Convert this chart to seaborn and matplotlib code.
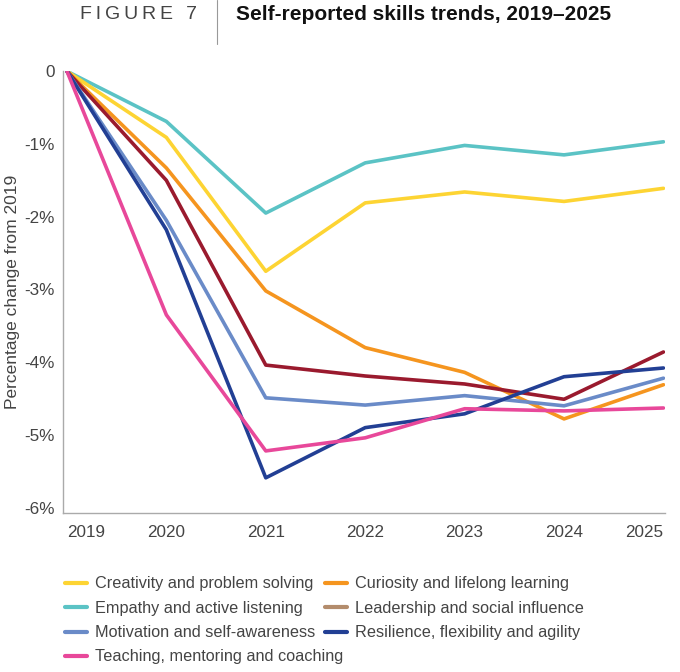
import pandas as pd
import matplotlib.pyplot as plt
import seaborn as sns
from matplotlib.lines import Line2D

# Values (percentage change from 2019)
years = [2019, 2020, 2021, 2022, 2023, 2024, 2025]
creativity = [0, -0.91, -2.75, -1.81, -1.66, -1.79, -1.61]
empathy = [0, -0.69, -1.95, -1.26, -1.02, -1.15, -0.97]
curiosity = [0, -1.33, -3.02, -3.80, -4.14, -4.78, -4.31]
leadership = [0, -1.50, -4.04, -4.19, -4.30, -4.51, -3.86]
motivation = [0, -2.05, -4.49, -4.59, -4.46, -4.60, -4.22]
resilience = [0, -2.18, -5.59, -4.90, -4.71, -4.20, -4.08]
teaching = [0, -3.35, -5.22, -5.04, -4.64, -4.67, -4.63]

skills = {
    'Creativity and problem solving': creativity,
    'Empathy and active listening': empathy,
    'Curiosity and lifelong learning': curiosity,
    'Leadership and social influence': leadership,
    'Motivation and self-awareness': motivation,
    'Resilience, flexibility and agility': resilience,
    'Teaching, mentoring and coaching': teaching,
}
line_colors = {
    'Creativity and problem solving': '#fdd433',
    'Empathy and active listening': '#5bc3c5',
    'Curiosity and lifelong learning': '#f5951f',
    'Leadership and social influence': '#9a1a2e',
    'Motivation and self-awareness': '#6a8bc8',
    'Resilience, flexibility and agility': '#223f94',
    'Teaching, mentoring and coaching': '#e8489a',
}
# the legend swatch for Leadership is tan in the original
legend_colors = dict(line_colors)
legend_colors['Leadership and social influence'] = '#b38c6c'

rows = []
for name, vals in skills.items():
    for y, v in zip(years, vals):
        rows.append({'year': y, 'change': v, 'skill': name})
df = pd.DataFrame(rows)

sns.set_style('white')
plt.rcParams['font.family'] = ['Liberation Sans', 'DejaVu Sans']

fig = plt.figure(figsize=(6.8, 6.72), dpi=100)
ax = fig.add_axes([0.0926, 0.237, 0.886, 0.657])

# draw back to front so pink/dark blue sit on top like the original
order = ['Empathy and active listening', 'Creativity and problem solving',
         'Curiosity and lifelong learning', 'Leadership and social influence',
         'Motivation and self-awareness', 'Resilience, flexibility and agility',
         'Teaching, mentoring and coaching']
for name in order:
    sns.lineplot(data=df[df['skill'] == name], x='year', y='change', color=line_colors[name],
                 linewidth=2.6, ax=ax, legend=False)

ax.set_xlim(2018.96, 2025.02)
ax.set_ylim(-6.07, 0)
ax.set_xticks(years)
ax.set_xticklabels([str(y) for y in years], fontsize=12.3, color='#444444')
labels = ax.get_xticklabels()
labels[0].set_ha('left')
labels[-1].set_ha('right')
ax.set_yticks([0, -1, -2, -3, -4, -5, -6])
ax.set_yticklabels(['0', '-1%', '-2%', '-3%', '-4%', '-5%', '-6%'], fontsize=12.3, color='#444444')
ax.tick_params(axis='both', length=0, pad=6)
ax.tick_params(axis='x', pad=9)
ax.set_xlabel('')
ax.set_ylabel('Percentage change from 2019', fontsize=12.5, color='#444444', labelpad=3)
for s in ['top', 'right']:
    ax.spines[s].set_visible(False)
for s in ['left', 'bottom']:
    ax.spines[s].set_color('#aaaaaa')
    ax.spines[s].set_linewidth(1)

# header
fig.text(0.118, 0.978, 'F\u2009I\u2009G\u2009U\u2009R\u2009E\u2009 \u20097', fontsize=14,
         color='#444444', va='center', ha='left')
fig.add_artist(Line2D([0.319, 0.319], [0.935, 1.0], color='#999999', linewidth=0.8))
fig.text(0.347, 0.978, 'Self-reported skills trends, 2019\u20132025', fontsize=15,
         fontweight='bold', color='#111111', va='center', ha='left')

# legend: three rows of two, then Teaching alone on the last row
two_col = ['Creativity and problem solving', 'Empathy and active listening',
           'Motivation and self-awareness',
           'Curiosity and lifelong learning', 'Leadership and social influence',
           'Resilience, flexibility and agility']
leg_kw = dict(frameon=False, fontsize=11.7, handlelength=1.35, handletextpad=0.5,
              labelspacing=0.58, labelcolor='#444444', loc='upper left')
h1 = [Line2D([0], [0], color=legend_colors[n], linewidth=3) for n in two_col]
fig.legend(h1, two_col, bbox_to_anchor=(0.074, 0.164), ncol=2,
           columnspacing=0.6, **leg_kw)
last = 'Teaching, mentoring and coaching'
h2 = [Line2D([0], [0], color=legend_colors[last], linewidth=3)]
fig.legend(h2, [last], bbox_to_anchor=(0.074, 0.164 - 3 * 24.3 / 672), **leg_kw)

fig.savefig('out.png', dpi=100)
